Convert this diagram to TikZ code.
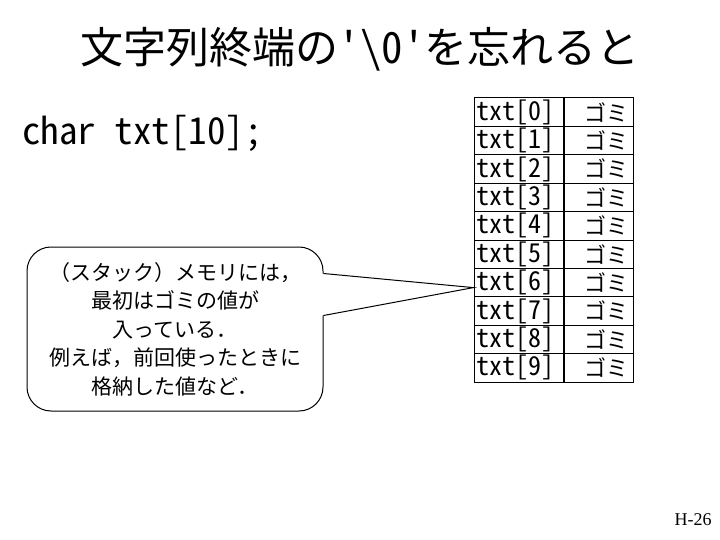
\documentclass[tikz,border=0pt]{standalone}
\usepackage{fontspec}
\setmainfont{Liberation Serif}
\newfontfamily\jpfont{Noto Sans CJK JP}
\newfontfamily\jpmono[RawFeature=+hwid, Ligatures=TeXOff]{Noto Sans CJK JP}
\usetikzlibrary{positioning}

\begin{document}
\begin{tikzpicture}[
      x=1pt, y=-1pt,
      title/.style   = {font=\jpfont\fontsize{43}{48}\selectfont, inner sep=0pt},
      code/.style    = {font=\jpmono\fontsize{37}{40}\selectfont, anchor=west, inner sep=0pt},
      namecell/.style = {
        rectangle, draw=black, line width=1pt,
        minimum height=28.4pt, inner xsep=2pt, inner ysep=0pt,
        text width=85pt, align=left,
        font=\jpmono\fontsize{26}{26}\selectfont
      },
      valcell/.style = {
        rectangle, draw=black, line width=1pt,
        minimum height=28.4pt, inner xsep=5pt, inner ysep=0pt,
        text width=59pt, align=right,
        font=\jpfont\fontsize{22}{22}\selectfont
      },
      memobox/.style = {
        rectangle, rounded corners=24pt, draw=black, line width=1pt,
        minimum width=296pt, minimum height=164pt, inner sep=0pt,
        align=center, font=\jpfont\fontsize{21}{28.5}\selectfont
      },
      pointer/.style = {draw=black, line width=1pt, line join=miter},
      pageno/.style  = {font=\fontsize{18}{20}\selectfont, inner sep=0pt}
    ]

      \useasboundingbox[fill=white] (0,0) rectangle (720,540);

      % ===================== Title and declaration =====================
      \node[title] (head) at (360,49) {文字列終端の{\jpmono'\textbackslash0'}を忘れると};
      \node[code] (decl) at (22,133) {char txt[10];};

      % ===================== Memory table =====================
      \foreach \i in {0,...,9} {
        \node[namecell] (n\i) at (518.5,{112.2+28.4*\i}) {txt[\i]};
        \node[valcell, right=0pt of n\i] (v\i) {ゴミ};
      }

      % ===================== Callout =====================
      \node[memobox] (memo) at (175,329)
        {（スタック）メモリには，\\最初はゴミの値が\\入っている．\\例えば，前回使ったときに\\格納した値など．};
      \coordinate (tip) at ([yshift=-5pt]n6.west);
      \coordinate (pa) at ([yshift=-27pt]memo.north east);
      \coordinate (pb) at ([yshift=-69pt]memo.north east);
      % cover the box edge under the pointer
      \fill[white] ([xshift=-1.5pt]pa) -- (tip) -- ([xshift=-1.5pt]pb) -- cycle;
      \draw[pointer] (pa) -- (tip) -- (pb);

      % Page number
      \node[pageno] (page) at (693,520) {H-26};

    \end{tikzpicture}
\end{document}
